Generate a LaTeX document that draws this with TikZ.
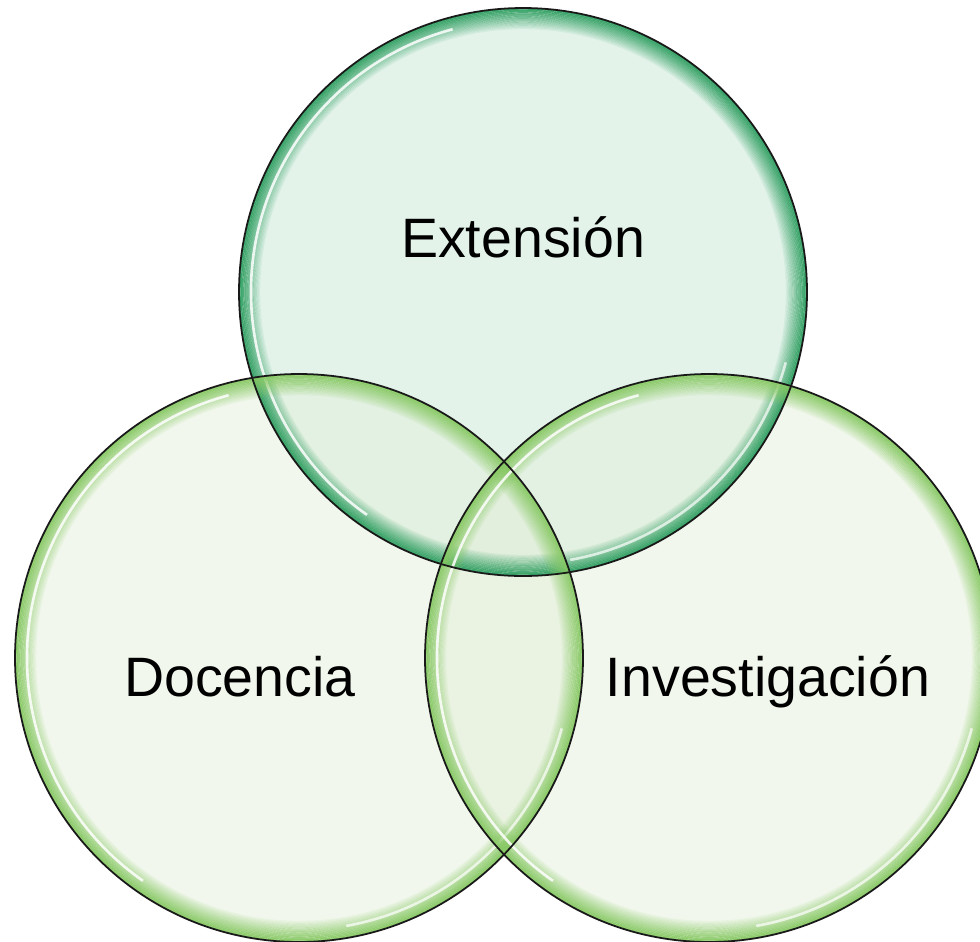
\documentclass[tikz,border=0pt]{standalone}
\usepackage{fontspec}
\setmainfont{Liberation Sans}
\usepackage{tikz}
\usetikzlibrary{positioning}

\definecolor{extfill}{HTML}{C7E7D5}
\definecolor{extring}{HTML}{2E9E60}
\definecolor{docfill}{HTML}{E3EFD9}
\definecolor{docring}{HTML}{86C862}

\begin{document}
\begin{tikzpicture}[x=0.02cm,y=-0.02cm]
\tikzset{venn/.style={circle,minimum size=11.36cm,inner sep=0pt}}
\tikzset{lbl/.style={anchor=base,font=\fontsize{31.6}{36}\selectfont}}
\tikzset{rim/.style={line width=0.8pt}}
\useasboundingbox (0,0) rectangle (980,941);
\clip (0,0) rectangle (980,941);
\node[venn] (ext) at (523,292) {};
\node[venn] (doc) at (299,658) {};
\node[venn] (inv) at (709,658) {};
% fills
\fill[extfill,fill opacity=0.5] (ext.center) circle (284);
\fill[docfill,fill opacity=0.5] (doc.center) circle (284);
\fill[docfill,fill opacity=0.5] (inv.center) circle (284);
% shaded rims
\foreach \n/\c in {ext/extring,doc/docring,inv/docring}{
  \foreach \k in {0,...,15}{
    \pgfmathsetmacro\op{0.95-0.058*\k}
    \draw[\c,rim,draw opacity=\op] (\n.center) circle (283-1.3*\k);
  }
  \draw[white,line width=1.5pt,draw opacity=0.85] (\n.center) ++(125:272) arc (125:255:272);
  \draw[white,line width=1.5pt,draw opacity=0.7] (\n.center) ++(15:272) arc (15:80:272);
}
% outlines
\foreach \n in {ext,doc,inv}
  \draw[black!90,line width=1pt] (\n.center) circle (284);
% labels
\node[lbl] (extlbl) at (523,257) {Extensión};
\node[lbl] (doclbl) at (240,696) {Docencia};
\node[lbl] (invlbl) at (768,696) {Investigación};
\end{tikzpicture}
\end{document}
